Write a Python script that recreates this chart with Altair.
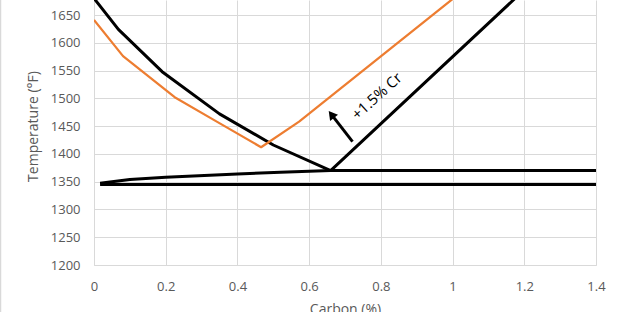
import altair as alt
import pandas as pd

# Upper black boundary (A3 then Acm)
upper_x = [0.0, 0.068, 0.19, 0.35, 0.5, 0.66, 1.4]
upper_y = [1680, 1624, 1548, 1472, 1416, 1370, 1816]
# Orange boundary (+1.5% Cr)
orange_x = [0.0, 0.081, 0.225, 0.34, 0.466, 0.572, 1.4]
orange_y = [1641, 1576, 1502, 1459, 1412, 1458, 1885]
# A1 (upper lower) line
a1_x = [0.017, 0.1, 0.2, 0.4, 0.52, 0.66, 1.4]
a1_y = [1347, 1354, 1358, 1364, 1367, 1370, 1370]
# Lower horizontal line
low_x = [0.017, 1.4]
low_y = [1345, 1345]

# Arrow annotation (data coordinates)
arrow_tail = (0.721, 1422)
arrow_head = (0.662, 1471)
label_pos = (0.789, 1504)
label_text = "+1.5% Cr"

GRAY = "#D9D9D9"
TXT = "#595959"
FONT = "Open Sans"

def frame(xs, ys):
    return pd.DataFrame({"x": xs, "y": ys, "o": list(range(len(xs)))})

xscale = alt.Scale(domain=[0, 1.4], nice=False, zero=False)
yscale = alt.Scale(domain=[1200, 1677], nice=False, zero=False)

xaxis = alt.Axis(values=[0, 0.2, 0.4, 0.6, 0.8, 1.0, 1.2, 1.4], format="~g",
                 title="Carbon (%)", labelPadding=15, labelFlush=False,
                 titleY=48, titleBaseline="alphabetic")
yaxis = alt.Axis(values=list(range(1200, 1651, 50)), format="d", title="Temperature (°F)",
                 labelPadding=14, titleAngle=-90, titleX=-61, titleY=126,
                 titleBaseline="middle", titleAlign="center")

def X(field):
    return alt.X(field, scale=xscale, axis=xaxis)

def Y(field):
    return alt.Y(field, scale=yscale, axis=yaxis)

def line(df, color, width):
    return alt.Chart(df).mark_line(color=color, strokeWidth=width, clip=True,
                                   strokeJoin="round").encode(
        x=X("x:Q"), y=Y("y:Q"), order="o:Q")

upper = line(frame(upper_x, upper_y), "black", 3)
orange = line(frame(orange_x, orange_y), "#ED7D31", 2.25)
a1 = line(frame(a1_x, a1_y), "black", 3)
low = line(frame(low_x, low_y), "black", 3)

arrow_df = pd.DataFrame({"x": [arrow_tail[0]], "y": [arrow_tail[1]],
                         "x2": [arrow_head[0]], "y2": [arrow_head[1]]})
shaft = alt.Chart(arrow_df).mark_rule(color="black", strokeWidth=3).encode(
    x=X("x:Q"), y=Y("y:Q"), x2="x2:Q", y2="y2:Q")
head = alt.Chart(arrow_df).mark_point(shape="triangle-up", filled=True, color="black",
                                      size=100, angle=322, opacity=1).encode(
    x=X("x2:Q"), y=Y("y2:Q"))

label_df = pd.DataFrame({"x": [label_pos[0]], "y": [label_pos[1]], "t": [label_text]})
label = alt.Chart(label_df).mark_text(angle=318, fontSize=15, font=FONT, color="black",
                                      align="center", baseline="middle").encode(
    x=X("x:Q"), y=Y("y:Q"), text="t:N")

# outer chart-area border on the left edge
border = alt.Chart(label_df).mark_rule(color=GRAY, strokeWidth=1.5).encode(
    x=alt.value(-93.5), y=alt.value(0), y2=alt.value(312))

chart = alt.layer(upper, orange, a1, low, shaft, head, label, border).properties(
    width=502, height=265,
    background="white",
    autosize=alt.AutoSizeParams(type="none"),
    padding={"left": 94, "top": 0, "right": 28, "bottom": 47},
).configure_view(stroke=None).configure_axis(
    grid=True, gridColor=GRAY, gridWidth=1, domainColor=GRAY, domainWidth=1,
    ticks=False, labelFont=FONT, labelFontSize=13, labelColor=TXT,
    titleFont=FONT, titleFontSize=14, titleColor=TXT, titleFontWeight="normal",
)

chart.save("out.html", embed_options={"renderer": "svg", "actions": False})
